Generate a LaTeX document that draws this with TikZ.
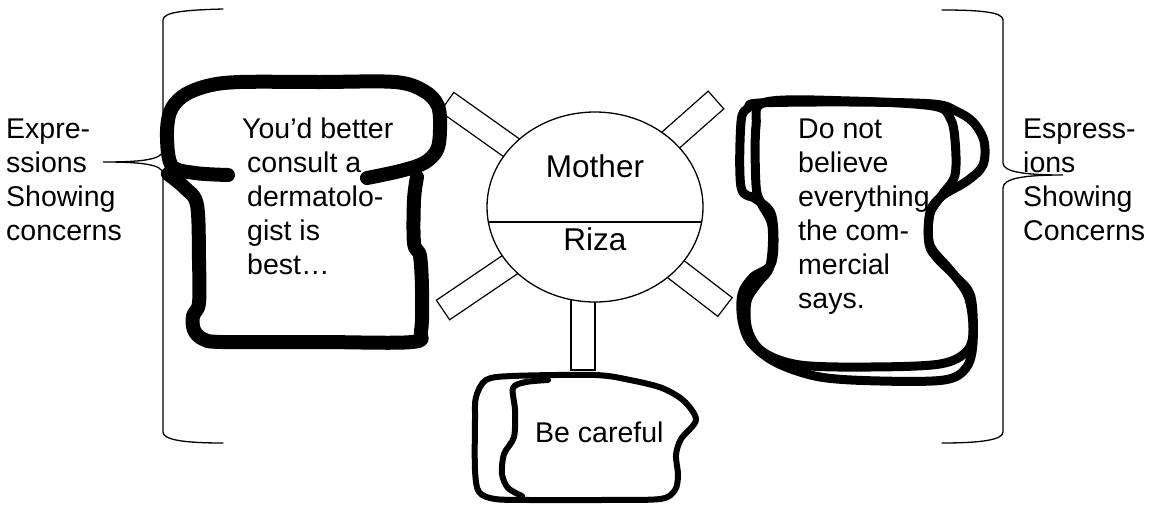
\documentclass[tikz,border=0pt]{standalone}
\usepackage{fontspec}
\setmainfont{Liberation Sans}
\usetikzlibrary{shapes.geometric,calc}
\newcommand{\mylines}[1]{\begin{tabular}[t]{@{}l@{}}#1\end{tabular}}
\begin{document}
\begin{tikzpicture}[x=1pt,y=-1pt,
  thinline/.style={line width=1.3pt,line cap=round},
  spoke/.style={draw,fill=white,line width=1.2pt,line join=miter},
  txt/.style={inner sep=0pt,anchor=base west,font=\fontsize{28.5}{34}\selectfont},
  ctxt/.style={inner sep=0pt,anchor=base,font=\fontsize{31.5}{36}\selectfont},
  breadline/.style={line width=14pt,line cap=round,line join=round},
  cupline/.style={line width=9pt,line cap=round,line join=round},
  rockline/.style={line width=6pt,line cap=round,line join=round}
]
\useasboundingbox (0,0) rectangle (1156,504);

% centre and spoke coordinates
\coordinate (C) at (595,207);
\coordinate (ulM) at (447,102);
\coordinate (urM) at (716,100);
\coordinate (llM) at (443,310);
\coordinate (lrM) at (725,307);
\foreach \s in {ul,ur,ll,lr}{
  \coordinate (\s I) at ($(C)!0.45!(\s M)$);
  \draw[spoke] ($(\s M)!11.8pt!90:(C)$) -- ($(\s M)!11.8pt!-90:(C)$)
     -- ($(\s I)!11.8pt!-90:(C)$) -- ($(\s I)!11.8pt!90:(C)$) -- cycle;
}
\draw[spoke] (571,280) rectangle (595,370);

% central circle
\node[ellipse,draw,fill=white,line width=1.3pt,inner sep=0pt,
      minimum width=216pt,minimum height=190pt] (mother) at (C) {};
\draw[thinline] ($(mother.center)+(-106.5,15)$) -- ($(mother.center)+(106.5,15)$);
\node[ctxt] (mtext) at (595,177) {Mother};
\node[ctxt] (rtext) at (595,250) {Riza};

% left bread-shaped blob
\draw[breadline] plot[smooth,tension=0.55] coordinates {
  (228,175) (195,173) (172,166) (167,138) (170,112) (183,96) (207,86) (240,82)
  (320,82) (395,82) (424,91) (438,106) (440,130) (437,150) (424,163) (400,171) (367,178)};
\draw[breadline] plot[smooth,tension=0.55] coordinates {
  (168,174) (185,188) (197,205) (199,260) (199,303) (193,316) (194,330) (203,339)
  (222,342) (320,342) (412,342) (421,331) (422,290) (420,256) (414,243) (414,200) (417,177)};

% right cup-shaped blob (double outline)
\draw[cupline] plot[smooth cycle,tension=0.55] coordinates {
  (760,103) (850,102) (933,104) (956,111) (973,122) (984,141) (983,165) (967,181)
  (942,196) (930,212) (929,244) (938,259) (956,277) (971,297) (973,343) (966,368)
  (944,380) (880,381) (820,377) (777,363) (751,343) (742,320) (742,294) (753,277)
  (772,262) (772,216) (756,199) (741,187) (741,122) (748,108)};
\draw[cupline] plot[smooth cycle,tension=0.55] coordinates {
  (766,102) (850,101) (933,106) (950,118) (955,140) (955,175) (942,195) (930,214)
  (930,245) (950,270) (968,296) (973,330) (967,351) (940,364) (870,367) (800,365)
  (763,352) (748,330) (747,301) (758,283) (770,266) (772,226) (761,203) (756,185)
  (756,126)};

% bottom blob
\draw[rockline] plot[smooth cycle,tension=0.5] coordinates {
  (486,380) (512,376) (595,375) (630,380) (662,388) (684,401) (696,420) (681,439)
  (676,455) (678,475) (675,490) (660,499) (600,500) (530,500) (495,499) (479,492)
  (475,470) (475,420) (476,397)};
\draw[rockline] plot[smooth,tension=0.5] coordinates {
  (548,380) (526,382) (513,388) (515,410) (514,437) (504,454) (502,474) (508,488) (522,496)};

% texts
\node[txt] (ltext) at (247,138) {\mylines{\hspace*{-5pt}You’d better\\consult a\\dermatolo-\\gist is\\best…}};
\node[txt] (rtextb) at (798,138) {\mylines{Do not\\believe\\everything\\the com-\\mercial\\says.}};
\node[txt] (btext) at (535,442) {Be careful};
\node[txt] (llabel) at (6,138) {\mylines{Expre-\\ssions\\Showing\\concerns}};
\node[txt] (rlabel) at (1023,138) {\mylines{Espress-\\ions\\Showing\\Concerns}};

% brackets
\coordinate (ltip) at (103,162);
\coordinate (rtip) at (1063,175);
\draw[thinline] (223,9) .. controls (185,10) and (163,12) .. (163,20) -- (163,150)
   .. controls (163,160) and (140,162) .. (ltip)
   .. controls (140,162) and (163,164) .. (163,174) -- (163,432)
   .. controls (163,440) and (185,443) .. (223,443);
\draw[thinline] (942,10) .. controls (980,10) and (1003,12) .. (1003,20) -- (1003,163)
   .. controls (1003,172) and (1025,175) .. (rtip)
   .. controls (1025,175) and (1003,178) .. (1003,188) -- (1003,432)
   .. controls (1003,440) and (980,443) .. (942,443);
\end{tikzpicture}
\end{document}
